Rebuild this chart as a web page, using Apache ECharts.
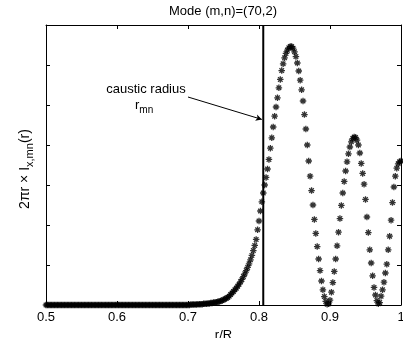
<!DOCTYPE html>
<html>
<head>
<meta charset="utf-8">
<script src="https://cdn.jsdelivr.net/npm/echarts@6/dist/echarts.min.js"></script>
<style>
  html, body { margin: 0; padding: 0; background: #fff; }
  #chart { width: 403px; height: 338px; }
</style>
</head>
<body>
<div id="chart"></div>
<script>
  'use strict';

  // sample radii r/R
  const rVals = [
    0.500,0.502,0.504,0.506,0.508,0.510,0.512,0.514,0.516,0.518,0.520,0.522,0.524,0.526,0.528,0.530,0.532,0.534,0.536,0.538,
    0.540,0.542,0.544,0.546,0.548,0.550,0.552,0.554,0.556,0.558,0.560,0.562,0.564,0.566,0.568,0.570,0.572,0.574,0.576,0.578,
    0.580,0.582,0.584,0.586,0.588,0.590,0.592,0.594,0.596,0.598,0.600,0.602,0.604,0.606,0.608,0.610,0.612,0.614,0.616,0.618,
    0.620,0.622,0.624,0.626,0.628,0.630,0.632,0.634,0.636,0.638,0.640,0.642,0.644,0.646,0.648,0.650,0.652,0.654,0.656,0.658,
    0.660,0.662,0.664,0.666,0.668,0.670,0.672,0.674,0.676,0.678,0.680,0.682,0.684,0.686,0.688,0.690,0.692,0.694,0.696,0.698,
    0.700,0.702,0.704,0.706,0.708,0.710,0.712,0.714,0.716,0.718,0.720,0.722,0.724,0.726,0.728,0.730,0.732,0.734,0.736,0.738,
    0.740,0.742,0.744,0.746,0.748,0.750,0.752,0.754,0.756,0.758,0.760,0.762,0.764,0.766,0.768,0.770,0.772,0.774,0.776,0.778,
    0.780,0.782,0.784,0.786,0.788,0.790,0.792,0.794,0.796,0.798,0.800,0.802,0.804,0.806,0.808,0.810,0.812,0.814,0.816,0.818,
    0.820,0.822,0.824,0.826,0.828,0.830,0.832,0.834,0.836,0.838,0.840,0.842,0.844,0.846,0.848,0.850,0.852,0.854,0.856,0.858,
    0.860,0.862,0.864,0.866,0.868,0.870,0.872,0.874,0.876,0.878,0.880,0.882,0.884,0.886,0.888,0.890,0.892,0.894,0.896,0.898,
    0.900,0.902,0.904,0.906,0.908,0.910,0.912,0.914,0.916,0.918,0.920,0.922,0.924,0.926,0.928,0.930,0.932,0.934,0.936,0.938,
    0.940,0.942,0.944,0.946,0.948,0.950,0.952,0.954,0.956,0.958,0.960,0.962,0.964,0.966,0.968,0.970,0.972,0.974,0.976,0.978,
    0.980,0.982,0.984,0.986,0.988,0.990,0.992,0.994,0.996,0.998,1.000
  ];

  // 2*pi*r * I_x,mn(r)
  const intensity = [
    0,0,0,0,0,0,0,0,0,0,0,0,0,0,0,0,0,0,0,0,
    0,0,0,0,0,0,0,0,0,0,0,0,0,0,0,0,0,0,0,0,
    0,0,0,0,0,0,0,0,0,0,0,0,0,0,0,0,0,0,0,0,
    0,0,0,0,0,0,0,0,0,0,0,0,0,0,0,0,0,0,0,0,
    0,0,0,0,0,0,0,0,0,0,0,0,0,0,0,0,0,0,0,0,
    0.00,0.00,0.01,0.01,0.01,0.01,0.01,0.02,0.02,0.02,0.02,0.03,0.03,0.03,0.04,0.04,0.05,0.05,0.06,0.06,
    0.07,0.08,0.09,0.10,0.11,0.13,0.15,0.17,0.19,0.22,0.26,0.30,0.34,0.38,0.42,0.47,0.52,0.58,0.64,0.71,
    0.78,0.86,0.94,1.03,1.13,1.24,1.36,1.49,1.64,1.88,2.10,2.35,2.58,2.80,3.00,3.19,3.40,3.64,3.92,4.18,
    4.45,4.72,4.95,5.18,5.43,5.64,5.86,6.03,6.18,6.29,6.37,6.43,6.46,6.46,6.42,6.33,6.21,6.05,5.85,5.62,
    5.38,5.10,4.76,4.40,4.00,3.60,3.22,2.86,2.50,2.14,1.79,1.46,1.15,0.86,0.60,0.38,0.21,0.09,0.02,0.03,
    0.12,0.32,0.56,0.84,1.15,1.48,1.82,2.16,2.49,2.80,3.09,3.35,3.58,3.78,3.95,4.08,4.16,4.20,4.19,4.12,
    4.00,3.80,3.54,3.29,3.02,2.64,2.20,1.81,1.38,1.05,0.73,0.44,0.25,0.11,0.03,0.06,0.22,0.38,0.57,0.80,
    1.02,1.38,1.72,2.12,2.56,2.95,3.22,3.42,3.53,3.58,3.60
  ];

  const xTickLabels = ['0.5', '0.6', '0.7', '0.8', '0.9', '1'];
  const causticR = 0.806;
  const yRange = [0, 7];
  // arrow from the label to the caustic line, in data units
  const arrowFrom = [0.700, 5.20];
  const arrowTo = [0.804, 4.64];

  const FONT = '"Liberation Sans", Arial, Helvetica, sans-serif';
  const STAR = 'path://M5,0L5,10M0,5L10,5M1.5,1.5L8.5,8.5M1.5,8.5L8.5,1.5';

  const chart = echarts.init(document.getElementById('chart'), null, { renderer: 'canvas' });

  const axisLine = { onZero: false, lineStyle: { color: '#000', width: 1 } };
  const axisTick = { inside: true, length: 4, lineStyle: { color: '#000', width: 1 } };

  function xAxis(pos, labels){
    return {
      type: 'value', position: pos, min: 0.5, max: 1, interval: 0.1,
      axisLine: axisLine, axisTick: axisTick, splitLine: { show: false },
      axisLabel: {
        show: labels, color: '#000', fontSize: 13, fontFamily: FONT, margin: 6,
        formatter: (v)=> xTickLabels[Math.round((v - 0.5) * 10)] || ''
      },
      name: labels ? 'r/R' : '', nameLocation: 'middle', nameGap: 23,
      nameTextStyle: { color: '#000', fontSize: 13, fontFamily: FONT }
    };
  }

  function yAxis(pos){
    return {
      type: 'value', position: pos, min: yRange[0], max: yRange[1], interval: 1,
      axisLine: axisLine, axisTick: axisTick, splitLine: { show: false },
      axisLabel: { show: false }
    };
  }

  chart.setOption({
    animation: false,
    backgroundColor: '#fff',
    grid: { left: 46, top: 25, right: 2, bottom: 33, outerBoundsMode: 'none', containLabel: false },
    xAxis: [xAxis('bottom', true), xAxis('top', false)],
    yAxis: [yAxis('left'), yAxis('right')],
    series: [
      {
        type: 'scatter',
        data: rVals.map((r, i)=> [r, intensity[i]]),
        symbol: STAR, symbolSize: 6.5,
        itemStyle: { color: '#000', borderColor: '#000', borderWidth: 1.3 },
        z: 2
      },
      {
        type: 'line',
        data: [[causticR, yRange[0]], [causticR, yRange[1]]],
        symbol: 'none',
        lineStyle: { color: '#000', width: 2 },
        z: 3,
        markLine: {
          silent: true,
          symbol: ['none', 'arrow'], symbolSize: [5, 6],
          label: { show: false },
          lineStyle: { color: '#000', width: 1, type: 'solid' },
          data: [[{ coord: arrowFrom }, { coord: arrowTo }]]
        }
      }
    ],
    graphic: [
      {
        type: 'text', x: 223, y: 11,
        style: { text: 'Mode (m,n)=(70,2)', fill: '#000', font: '13px ' + FONT, textAlign: 'center', textVerticalAlign: 'middle' }
      },
      {
        type: 'text', x: 146, y: 89,
        style: { text: 'caustic radius', fill: '#000', font: '13px ' + FONT, textAlign: 'center', textVerticalAlign: 'middle' }
      },
      {
        type: 'text', x: 135, y: 105,
        style: {
          text: '{a|r}{b|mn}', fill: '#000', textVerticalAlign: 'middle',
          rich: {
            a: { font: '13px ' + FONT, lineHeight: 20, fill: '#000' },
            b: { font: '10px ' + FONT, lineHeight: 10, verticalAlign: 'bottom', fill: '#000' }
          }
        }
      },
      {
        type: 'text', x: 25, y: 169, rotation: Math.PI / 2,
        style: {
          text: '{a|2πr × I}{b|x,mn}{a|(r)}', fill: '#000', textAlign: 'center', textVerticalAlign: 'middle',
          rich: {
            a: { font: '14px ' + FONT, lineHeight: 20, fill: '#000' },
            b: { font: '11px ' + FONT, lineHeight: 11, verticalAlign: 'bottom', fill: '#000' }
          }
        }
      }
    ]
  });
</script>
</body>
</html>
